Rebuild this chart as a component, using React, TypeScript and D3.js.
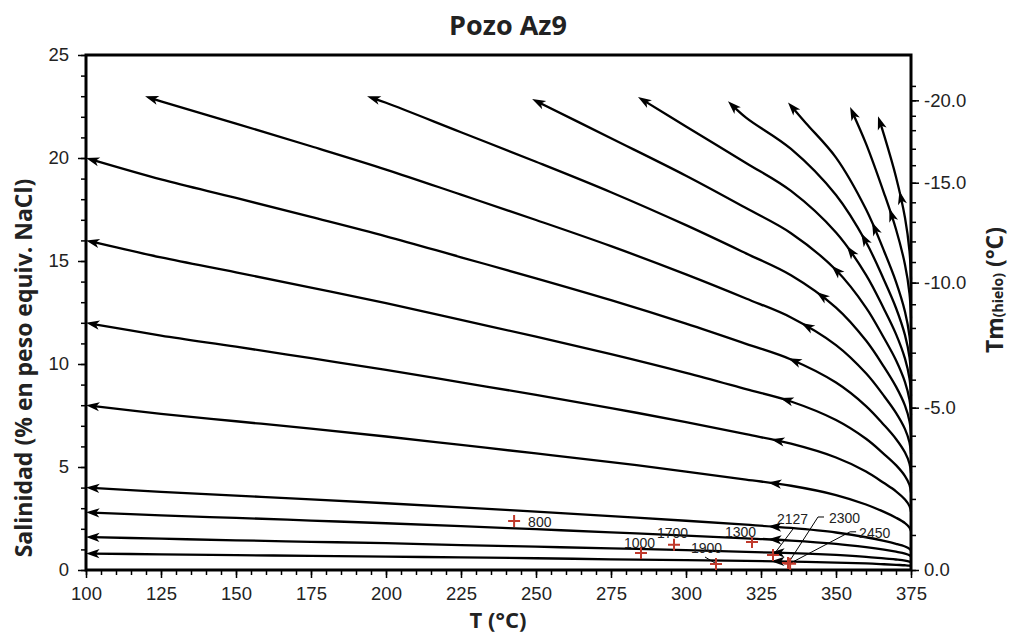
import React, { useEffect, useRef } from 'react'
import * as d3 from 'd3'

const width = 1010
const height = 636

// temperature grid (°C) shared by the paths that reach the left axis
const tGrid = [100, 125, 150, 175, 200, 225, 250, 275, 300, 320, 335, 350, 360, 366, 370, 373, 374.5, 375]

// salinity (% NaCl) along each path ending at T = 100
const salL08 = [0.80, 0.76, 0.72, 0.69, 0.65, 0.61, 0.57, 0.52, 0.48, 0.44, 0.41, 0.36, 0.32, 0.28, 0.25, 0.23, 0.21, 0.19]
const salL16 = [1.60, 1.52, 1.44, 1.37, 1.30, 1.21, 1.13, 1.05, 0.96, 0.88, 0.82, 0.73, 0.64, 0.56, 0.51, 0.46, 0.41, 0.38]
const salL28 = [2.80, 2.65, 2.53, 2.40, 2.27, 2.13, 1.98, 1.83, 1.67, 1.54, 1.43, 1.27, 1.11, 0.99, 0.89, 0.80, 0.72, 0.66]
const salL4 = [4.00, 3.79, 3.61, 3.43, 3.24, 3.04, 2.83, 2.62, 2.39, 2.20, 2.04, 1.82, 1.59, 1.41, 1.27, 1.14, 1.03, 0.94]
const salL8 = [8.00, 7.58, 7.22, 6.86, 6.48, 6.07, 5.66, 5.24, 4.78, 4.39, 4.09, 3.64, 3.18, 2.82, 2.54, 2.28, 2.06, 1.88]
const salL12 = [12.00, 11.38, 10.84, 10.28, 9.72, 9.11, 8.50, 7.86, 7.18, 6.59, 6.13, 5.46, 4.78, 4.22, 3.82, 3.42, 3.10, 2.82]
const salL16b = [16.00, 15.17, 14.45, 13.71, 12.96, 12.14, 11.33, 10.48, 9.57, 8.78, 8.18, 7.28, 6.37, 5.63, 5.09, 4.56, 4.13, 3.76]
const salL20 = [20.00, 18.96, 18.06, 17.14, 16.20, 15.18, 14.16, 13.10, 11.96, 10.98, 10.22, 9.10, 7.96, 7.04, 6.36, 5.70, 5.16, 4.70]

// paths that stop near the top of the chart
const tC1 = [119.7, 125, 150, 175, 200, 225, 250, 275, 300, 320, 335, 350, 360, 366, 370, 373, 374.5, 375]
const salC1 = [23.0, 22.75, 21.67, 20.57, 19.44, 18.22, 16.99, 15.72, 14.35, 13.18, 12.26, 10.92, 9.55, 8.45, 7.63, 6.84, 6.19, 5.64]
const tC2 = [193.7, 200, 225, 250, 275, 300, 320, 335, 350, 360, 366, 370, 373, 374.5, 375]
const salC2 = [23.0, 22.68, 21.25, 19.82, 18.34, 16.74, 15.37, 14.31, 12.74, 11.14, 9.86, 8.90, 7.98, 7.22, 6.58]
const tC3 = [248.7, 275, 300, 320, 335, 350, 360, 366, 370, 373, 374.5, 375]
const salC3 = [22.86, 20.96, 19.14, 17.57, 16.35, 14.56, 12.74, 11.26, 10.18, 9.12, 8.26, 7.52]
const tC4 = [284, 300, 320, 335, 350, 360, 366, 370, 373, 374.5, 375]
const salC4 = [22.96, 21.53, 19.76, 18.40, 16.38, 14.33, 12.67, 11.45, 10.26, 9.29, 8.46]
const tC5 = [314, 320, 335, 350, 360, 366, 370, 373, 374.5, 375]
const salC5 = [22.76, 21.96, 20.44, 18.20, 15.92, 14.08, 12.72, 11.40, 10.32, 9.40]
const tC6 = [334, 340, 350, 360, 366, 370, 373, 374.5, 375]
const salC6 = [22.7, 21.69, 20.02, 17.51, 15.49, 13.99, 12.54, 11.35, 10.34]
const tC7 = [354.7, 360, 366, 370, 373, 374.5, 375]
const salC7 = [22.47, 20.70, 18.30, 16.54, 14.82, 13.42, 12.22]
const tC8 = [364, 366, 370, 373, 374.5, 375]
const salC8 = [22.03, 21.12, 19.08, 17.10, 15.48, 14.10]

// temperature where the middle arrow of each path sits
const midArrowT = [329, 329, 328, 328, 328, 329, 332, 334.7, 339, 344, 349, 354, 358.7, 362.3, 368, 371.3]

// samples (depth labels)
const sampleLabel = ['800', '1000', '1700', '1900', '1300', '2127', '2300', '2450']
const sampleT = [242.7, 285, 296, 310, 322, 329, 334, 334.7]
const sampleS = [2.38, 0.83, 1.22, 0.29, 1.36, 0.73, 0.34, 0.30]

// axes
const xTicks = [100, 125, 150, 175, 200, 225, 250, 275, 300, 325, 350, 375]
const yTicks = [0, 5, 10, 15, 20, 25]
const tmMajor = [0, -5, -10, -15, -20]
// ice melting temperature and the salinity it sits at on the left scale
const tmTicks = [0, -1, -2, -3, -4, -5, -6, -7, -8, -9, -10, -11, -12, -13, -14, -15, -16, -17, -18, -19, -20, -21]
const tmSalinity = [0, 1.70, 3.45, 5.05, 6.52, 7.88, 9.24, 10.55, 11.75, 12.9, 13.95, 14.95, 15.95, 16.9, 17.85, 18.8, 19.65, 20.45, 21.35, 22.05, 22.8, 23.5]

// label placement for the sample annotations (px, relative to the marker)
const labelLayout = [
  { dx: 14, dy: 6, leader: null },
  { dx: -17, dy: -5, leader: null },
  { dx: -17, dy: -7, leader: null },
  { dx: -25, dy: -11, leader: [[-11, -7], [-1, -1]] },
  { dx: -27, dy: -5, leader: null },
  { dx: 4, dy: -31, leader: [[2, -2], [20, -26]] },
  { dx: 41, dy: -40, leader: [[1, -1], [30, -46], [36, -46]] },
  { dx: 69, dy: -26, leader: [[1, -1], [60, -32], [66, -32]] },
]

const sansBold = '"Open Sans", "Noto Sans", sans-serif'
const arial = '"Liberation Sans", Arial, sans-serif'

export default function App() {
  const ref = useRef<SVGGElement | null>(null)

  function draw() {
    const g = d3.select(ref.current)
    g.selectAll('*').remove()

    const x = d3.scaleLinear().domain([100, 375]).range([86, 911])
    const y = d3.scaleLinear().domain([0, 25]).range([570, 55])
    const tm = d3.scaleLinear().domain(tmTicks).range(tmSalinity.map(s => y(s)))

    const styleAxis = (sel: any) => {
      sel.select('.domain').remove()
      sel.selectAll('line').attr('stroke', '#000').attr('stroke-width', 1.5)
      sel.selectAll('text').attr('font-family', arial).attr('font-size', 18.5).attr('fill', '#222')
    }

    // bottom axis
    g.append('g').attr('transform', 'translate(0,570)')
      .call(d3.axisBottom(x).tickValues(d3.range(100, 376, 5)).tickSize(5).tickFormat(() => '') as any)
      .call(styleAxis)
    g.append('g').attr('transform', 'translate(0,570)')
      .call(d3.axisBottom(x).tickValues(xTicks).tickSize(8).tickPadding(9).tickFormat(d3.format('d')) as any)
      .call(styleAxis)

    // left axis
    g.append('g').attr('transform', 'translate(86,0)')
      .call(d3.axisLeft(y).tickValues(d3.range(0, 26, 1)).tickSize(5).tickFormat(() => '') as any)
      .call(styleAxis)
    g.append('g').attr('transform', 'translate(86,0)')
      .call(d3.axisLeft(y).tickValues(yTicks).tickSize(8).tickPadding(9).tickFormat(d3.format('d')) as any)
      .call(styleAxis)

    // right axis (Tm hielo)
    g.append('g').attr('transform', 'translate(911,0)')
      .call(d3.axisRight(tm).tickValues(tmTicks).tickSize(5).tickFormat(() => '') as any)
      .call(styleAxis)
    g.append('g').attr('transform', 'translate(911,0)')
      .call(d3.axisRight(tm).tickValues(tmMajor).tickSize(8).tickPadding(5).tickFormat((d: any) => (+d).toFixed(1)) as any)
      .call(styleAxis)

    const curves = [
      { t: tGrid, s: salL08 }, { t: tGrid, s: salL16 }, { t: tGrid, s: salL28 }, { t: tGrid, s: salL4 },
      { t: tGrid, s: salL8 }, { t: tGrid, s: salL12 }, { t: tGrid, s: salL16b }, { t: tGrid, s: salL20 },
      { t: tC1, s: salC1 }, { t: tC2, s: salC2 }, { t: tC3, s: salC3 }, { t: tC4, s: salC4 },
      { t: tC5, s: salC5 }, { t: tC6, s: salC6 }, { t: tC7, s: salC7 }, { t: tC8, s: salC8 },
    ]

    const line = d3.line<[number, number]>()
      .x(d => x(d[0]))
      .y(d => y(d[1]))
      .curve(d3.curveCatmullRom.alpha(0.5))

    const gLines = g.append('g')
    const gArrows = g.append('g')

    function arrow(tip: DOMPoint, back: DOMPoint) {
      const dx = tip.x - back.x, dy = tip.y - back.y
      const n = Math.hypot(dx, dy) || 1
      const ux = dx / n, uy = dy / n, px = -uy, py = ux
      const len = 13.5, hw = 4.6, notch = 10
      const bx = tip.x - ux * len, by = tip.y - uy * len
      const nx = tip.x - ux * notch, ny = tip.y - uy * notch
      gArrows.append('path')
        .attr('d', `M${tip.x},${tip.y}L${bx + px * hw},${by + py * hw}L${nx},${ny}L${bx - px * hw},${by - py * hw}Z`)
        .attr('fill', '#000')
    }

    curves.forEach((c, i) => {
      // path runs from 375 °C toward the tip
      const pts = c.t.map((t, k) => [t, c.s[k]] as [number, number]).reverse()
      const p = gLines.append('path')
        .attr('d', line(pts))
        .attr('fill', 'none')
        .attr('stroke', '#000')
        .attr('stroke-width', 2.3)
      const node = p.node() as SVGPathElement
      const L = node.getTotalLength()
      p.attr('stroke-dasharray', `${L - 6} ${L}`)
      arrow(node.getPointAtLength(L), node.getPointAtLength(L - 4))

      const tx = x(midArrowT[i])
      let lo = 0, hi = L
      for (let k = 0; k < 30; k++) {
        const m = (lo + hi) / 2
        if (node.getPointAtLength(m).x > tx) lo = m
        else hi = m
      }
      const at = (lo + hi) / 2
      arrow(node.getPointAtLength(at + 2), node.getPointAtLength(at - 2))
    })

    // frame
    g.append('rect')
      .attr('x', 86).attr('y', 55).attr('width', 825).attr('height', 515)
      .attr('fill', 'none').attr('stroke', '#000').attr('stroke-width', 3)

    // samples
    const gS = g.append('g')
    sampleLabel.forEach((lab, i) => {
      const cx = x(sampleT[i]), cy = y(sampleS[i])
      const lay = labelLayout[i]
      if (lay.leader) {
        const pts = [[cx + lay.leader[0][0], cy + lay.leader[0][1]]]
        lay.leader.slice(1).forEach(q => pts.push([cx + q[0], cy + q[1]]))
        gS.append('path')
          .attr('d', d3.line()(pts as [number, number][]))
          .attr('fill', 'none').attr('stroke', '#000').attr('stroke-width', 1)
      }
      gS.append('path')
        .attr('d', `M${cx - 6},${cy}H${cx + 6}M${cx},${cy - 6}V${cy + 6}`)
        .attr('stroke', '#c0392b').attr('stroke-width', 2)
      gS.append('text')
        .attr('x', cx + lay.dx).attr('y', cy + lay.dy)
        .attr('font-family', arial).attr('font-size', 14).attr('fill', '#222')
        .text(lab)
    })
  }

  useEffect(() => {
    draw()
  }, [])

  return (
    <svg width={width} height={height} style={{ position: 'absolute', left: 0, top: 0, background: '#fff' }}>
      <g ref={ref} />
      <text x={508} y={35} textAnchor="middle" fontFamily={sansBold} fontWeight="bold" fontSize={27} fill="#222">Pozo Az9</text>
      <text x={498} y={628} textAnchor="middle" fontFamily={sansBold} fontWeight="bold" fontSize={22} fill="#222">T (°C)</text>
      <text transform="translate(32,368) rotate(-90)" textAnchor="middle" fontFamily={sansBold} fontWeight="bold" fontSize={23} fill="#222">
        Salinidad (% en peso equiv. NaCl)
      </text>
      <text transform="translate(1003,290) rotate(-90)" textAnchor="middle" fontFamily={sansBold} fontWeight="bold" fontSize={23} fill="#222">
        Tm<tspan fontSize={14}>(hielo)</tspan> (°C)
      </text>
    </svg>
  )
}
